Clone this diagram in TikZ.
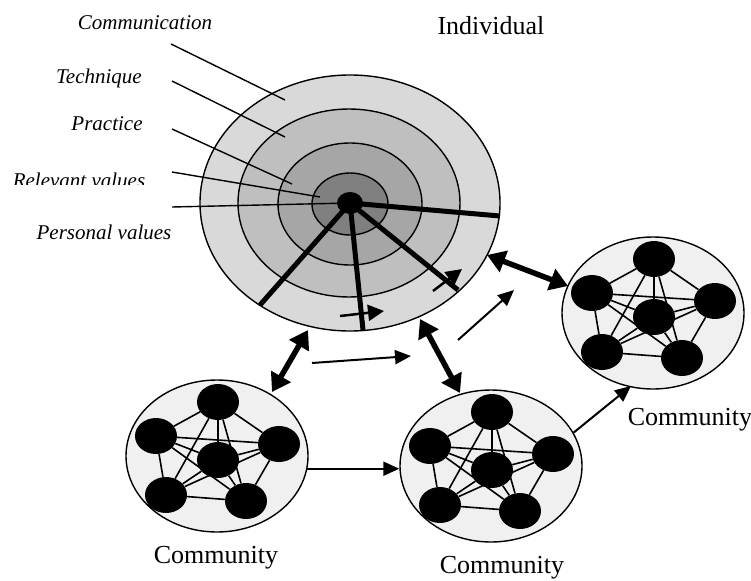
\documentclass[tikz,border=0pt]{standalone}
\usepackage{fontspec}
\setmainfont{Liberation Serif}
\usetikzlibrary{arrows.meta,shapes.geometric}
\tikzset{
  ring/.style={draw,line width=1.4pt},
  spoke/.style={line width=5pt},
  lead/.style={line width=1.4pt},
  tag/.style={anchor=base,font=\fontsize{21}{24}\selectfont\itshape,inner sep=0pt},
  title/.style={anchor=base,font=\fontsize{26}{30}\selectfont,inner sep=0pt},
  group/.style={ellipse,draw,fill=black!6,line width=1.4pt,minimum width=182,minimum height=152,inner sep=0pt},
  member/.style={ellipse,fill=black,minimum width=42,minimum height=36,inner sep=0pt},
  link/.style={line width=1.6pt},
  twoway/.style={line width=5.5pt,{Triangle[length=18pt,width=22pt]}-{Triangle[length=18pt,width=22pt]}},
  oneway/.style={line width=2pt,-{Triangle[length=16pt,width=14pt]}},
  inarrow/.style={line width=2.5pt,-{Triangle[length=16pt,width=16pt]}}
}
% one community: six members, all joined to each other
\newcommand{\community}[2]{%
  \node[group] (#1) at (#2) {};
  \begin{scope}[shift={(#2)}]
    \node[member] (#1-1) at (1,-54) {};
    \node[member] (#1-2) at (-61,-20) {};
    \node[member] (#1-3) at (62,-12) {};
    \node[member] (#1-4) at (1,4) {};
    \node[member] (#1-5) at (-51,39) {};
    \node[member] (#1-6) at (29,45) {};
  \end{scope}
  \foreach \i/\j in {1/2,1/3,1/4,1/5,1/6,2/3,2/4,2/5,2/6,3/4,3/5,3/6,4/5,4/6,5/6}
    \draw[link] (#1-\i) -- (#1-\j);
}

\begin{document}
\begin{tikzpicture}[x=1pt,y=-1pt]
\useasboundingbox (0,0) rectangle (751,580);

% the individual: nested rings of values
\draw[ring,fill=black!15] (350,203) ellipse (150 and 128);
\draw[ring,fill=black!25] (349,203) ellipse (111 and 94);
\draw[ring,fill=black!35] (350,204) ellipse (72 and 61);
\draw[ring,fill=black!50] (350,204) ellipse (38 and 31);
\node[ellipse,fill=black,minimum width=26,minimum height=22,inner sep=0pt] (hub) at (350,203) {};

\coordinate (s1) at (500,216);
\coordinate (s2) at (260,305);
\coordinate (s3) at (363,330);
\coordinate (s4) at (458,290);
\foreach \s in {s1,s2,s3,s4}
  \draw[spoke] (hub.center) -- (\s);

\draw[inarrow] (340,316) -- (384,311);
\draw[inarrow] (433,291) -- (462,269);

% labels of the rings
\node[tag] (comm) at (145,30) {Communication};
\node[tag] (tech) at (99,84) {Technique};
\node[tag] (prac) at (107,131) {Practice};
\begin{scope}
  \clip (0,160) rectangle (200,184);
  \node[tag] (relv) at (79,187) {Relevant values};
\end{scope}
\node[tag] (pers) at (104,239) {Personal values};
\node[title] (indiv) at (491,35) {Individual};

\coordinate (l1) at (171,44);  \coordinate (e1) at (285,100);
\coordinate (l2) at (172,81);  \coordinate (e2) at (285,137);
\coordinate (l3) at (172,129); \coordinate (e3) at (292,184);
\coordinate (l4) at (172,172); \coordinate (e4) at (320,197);
\coordinate (l5) at (172,207);
\foreach \n in {1,2,3,4}
  \draw[lead] (l\n) -- (e\n);
\draw[lead] (l5) -- (hub.center);

% the three communities
\community{cl}{217,456}
\community{cm}{491,466}
\community{cr}{653,313}
\node[title] (tl) at (216,563) {Community};
\node[title] (tm) at (502,573) {Community};
\node[title] (tr) at (690,425) {Community};

% exchanges
\coordinate (a1) at (272,392); \coordinate (b1) at (308,330);
\coordinate (a2) at (420,319); \coordinate (b2) at (460,393);
\coordinate (a3) at (487,255); \coordinate (b3) at (568,286);
\draw[twoway] (a1) -- (b1);
\draw[twoway] (a2) -- (b2);
\draw[twoway] (a3) -- (b3);

\coordinate (f1) at (312,363); \coordinate (g1) at (411,356);
\coordinate (f2) at (458,340); \coordinate (g2) at (514,290);
\draw[oneway] (f1) -- (g1);
\draw[oneway] (f2) -- (g2);
\draw[oneway] (cl.-8) -- (cl.-8 -| cm.west);
\coordinate (g3) at (631,386);
\draw[oneway] (cm.22) -- (g3);
\end{tikzpicture}
\end{document}
